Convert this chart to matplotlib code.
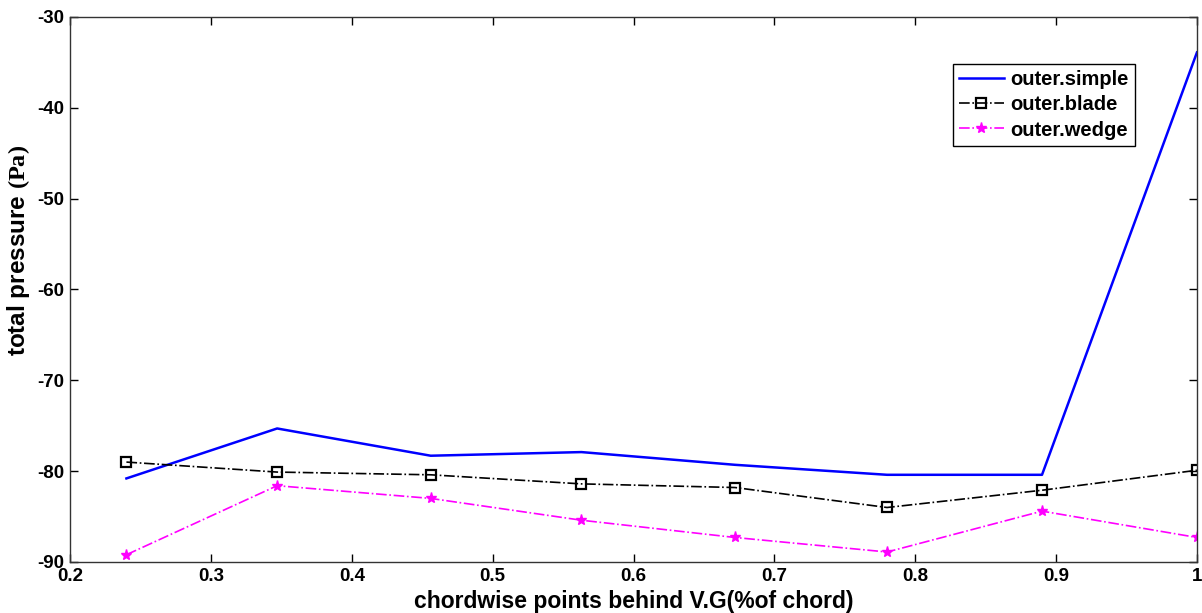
import matplotlib
matplotlib.use("Agg")
import matplotlib.pyplot as plt

x_points = [0.24, 0.347, 0.456, 0.563, 0.672, 0.78, 0.89, 1.0]
outer_simple = [-80.8, -75.3, -78.3, -77.9, -79.3, -80.4, -80.4, -33.9]
outer_blade = [-79.0, -80.1, -80.4, -81.4, -81.8, -84.0, -82.1, -79.9]
outer_wedge = [-89.2, -81.6, -83.0, -85.4, -87.3, -88.9, -84.4, -87.3]

xticks = [0.2, 0.3, 0.4, 0.5, 0.6, 0.7, 0.8, 0.9, 1.0]
xtick_labels = ["0.2", "0.3", "0.4", "0.5", "0.6", "0.7", "0.8", "0.9", "1"]
yticks = [-90, -80, -70, -60, -50, -40, -30]

plt.rcParams['font.family'] = ['Liberation Sans', 'DejaVu Sans']
plt.rcParams['mathtext.fontset'] = 'custom'
plt.rcParams['mathtext.bf'] = 'Liberation Serif:bold'
plt.rcParams['mathtext.rm'] = 'Liberation Serif'
plt.rcParams['axes.unicode_minus'] = False

fig = plt.figure(figsize=(12.02, 6.13), dpi=100)
ax = fig.add_axes([0.0583, 0.0832, 0.9375, 0.8891])

ax.plot(x_points, outer_simple, color='#0000ff', lw=1.8, label='outer.simple')
ax.plot(x_points, outer_blade, color='black', lw=1.2, ls='-.', marker='s',
        markersize=7, markerfacecolor='none', markeredgecolor='black',
        markeredgewidth=1.6, label='outer.blade')
ax.plot(x_points, outer_wedge, color='#ff00ff', lw=1.2, ls='-.', marker='*',
        markersize=8, label='outer.wedge')

ax.set_xlim(0.2, 1.0)
ax.set_ylim(-90, -30)
ax.set_xticks(xticks)
ax.set_xticklabels(xtick_labels)
ax.set_yticks(yticks)
ax.tick_params(direction='in', top=True, right=True, length=6, width=1,
               labelsize=13.5, pad=4)
for lab in ax.get_xticklabels() + ax.get_yticklabels():
    lab.set_fontweight('bold')
for sp in ax.spines.values():
    sp.set_linewidth(1.0)
    sp.set_color('#333333')

ax.set_xlabel('chordwise points behind V.G(%of chord)', fontsize=16.5,
              fontweight='bold', va='center')
ax.xaxis.set_label_coords(0.5, -0.072)
ax.set_ylabel(r'total pressure $\mathbf{(Pa)}$', fontsize=17.5,
              fontweight='bold', va='center')
ax.yaxis.set_label_coords(-0.046, 0.572)

leg = ax.legend(loc='upper right', bbox_to_anchor=(0.945, 0.9145),
                prop={'weight': 'bold', 'size': 14.5},
                fancybox=False, edgecolor='black', framealpha=1,
                borderpad=0.3, labelspacing=0.32, handlelength=2.2,
                handletextpad=0.35, borderaxespad=0)
leg.get_frame().set_linewidth(1.0)

fig.savefig('out.png', dpi=100)
